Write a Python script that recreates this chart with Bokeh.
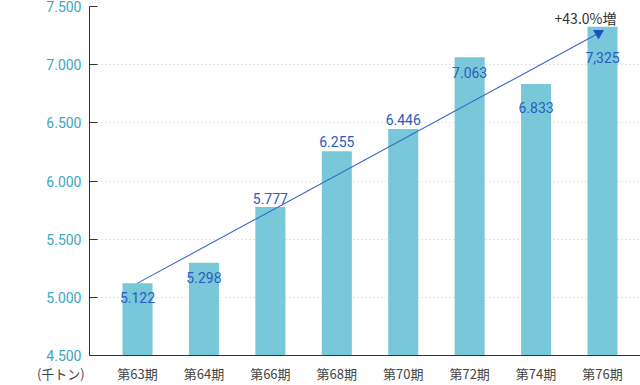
from bokeh.plotting import figure
from bokeh.models import ColumnDataSource, FixedTicker, Range1d, Label
from bokeh.core.properties import value
from bokeh.embed import file_html
from bokeh.resources import INLINE

# ---- data ----
PERIODS = ["第63期", "第64期", "第66期", "第68期", "第70期", "第72期", "第74期", "第76期"]
VALUES = [5122, 5298, 5777, 6255, 6446, 7063, 6833, 7325]
VALUE_LABELS = ["5.122", "5.298", "5.777", "6.255", "6.446", "7.063", "6.833", "7,325"]
Y_TICKS = [4500, 5000, 5500, 6000, 6500, 7000, 7500]
Y_TICK_LABELS = ["4.500", "5.000", "5.500", "6.000", "6.500", "7.000", "7.500"]
UNIT_LABEL = "(千トン)"
GROWTH_LABEL = "+43.0%増"

# label vertical offsets (pixels, positive = down)
LABEL_DY = [14, 15, -8, -10, -10, 15, 23, 31]

BAR_COLOR = "#78c8d9"
LABEL_COLOR = "#2a5bbf"
LINE_COLOR = "#3a66cc"
TICK_COLOR = "#3ba7bf"
TEXT_COLOR = "#444444"

xs = list(range(len(PERIODS)))
X_START, X_END = -0.723, 7.572
UNIT_TICK = -0.72  # unit label drawn as an extra tick label at the left edge

p = figure(width=640, height=385, output_backend="svg", toolbar_location=None,
           x_range=Range1d(X_START, X_END), y_range=Range1d(4500, 7500),
           min_border_left=89, min_border_right=0, min_border_top=6,
           min_border_bottom=29)
p.outline_line_color = None
p.background_fill_color = "white"

src = ColumnDataSource(dict(x=xs, top=VALUES, lab=VALUE_LABELS, dy=LABEL_DY))
p.vbar(x="x", top="top", bottom=4500, width=0.452, source=src,
       fill_color=BAR_COLOR, line_color=None)

# trend line with head
p.segment(x0=[xs[0]], y0=[VALUES[0]], x1=[xs[-1] - 0.06], y1=[VALUES[-1] - 55],
          line_color=LINE_COLOR, line_width=1.1)
p.scatter(x=[xs[-1] - 0.06], y=[VALUES[-1] - 55], marker="inverted_triangle",
          size=11, fill_color="#2050c0", line_color=None)

p.text(x="x", y="top", text="lab", y_offset="dy", source=src,
       text_align="center", text_baseline="middle",
       text_font=value("Roboto"), text_font_size="14px", text_color=LABEL_COLOR)

p.add_layout(Label(x=xs[-1], y=7500, x_offset=-17, y_offset=-11, text=GROWTH_LABEL,
                   text_align="center", text_baseline="middle",
                   text_font="Noto Sans CJK JP", text_font_size="14px",
                   text_color="#333333"))

# axes
overrides = {i: s for i, s in zip(xs, PERIODS)}
overrides[UNIT_TICK] = UNIT_LABEL + "\u3000" * 4 + "\u00a0\u00a0"
p.xaxis.ticker = FixedTicker(ticks=[UNIT_TICK] + xs)
p.xaxis.major_label_overrides = overrides
p.xaxis.major_tick_line_color = None
p.xaxis.major_tick_in = 0
p.xaxis.major_tick_out = 0
p.xaxis.minor_tick_line_color = None
p.xaxis.axis_line_color = "#333333"
p.xaxis.major_label_text_font = "Noto Sans CJK JP"
p.xaxis.major_label_text_font_size = "13px"
p.xaxis.major_label_text_color = TEXT_COLOR
p.xaxis.major_label_standoff = 8

p.yaxis.ticker = FixedTicker(ticks=Y_TICKS)
p.yaxis.major_label_overrides = {t: s for t, s in zip(Y_TICKS, Y_TICK_LABELS)}
p.yaxis.major_tick_in = 8
p.yaxis.major_tick_out = 0
p.yaxis.major_tick_line_color = "#333333"
p.yaxis.minor_tick_line_color = None
p.yaxis.axis_line_color = "#333333"
p.yaxis.major_label_text_font = "Roboto"
p.yaxis.major_label_text_font_size = "14px"
p.yaxis.major_label_text_color = TICK_COLOR
p.yaxis.major_label_standoff = 8

p.xgrid.grid_line_color = None
p.ygrid.grid_line_color = "#c8c8c8"
p.ygrid.grid_line_dash = "1 3"
p.ygrid.ticker = FixedTicker(ticks=Y_TICKS[1:])

open("out.html", "w").write(file_html(p, INLINE))
